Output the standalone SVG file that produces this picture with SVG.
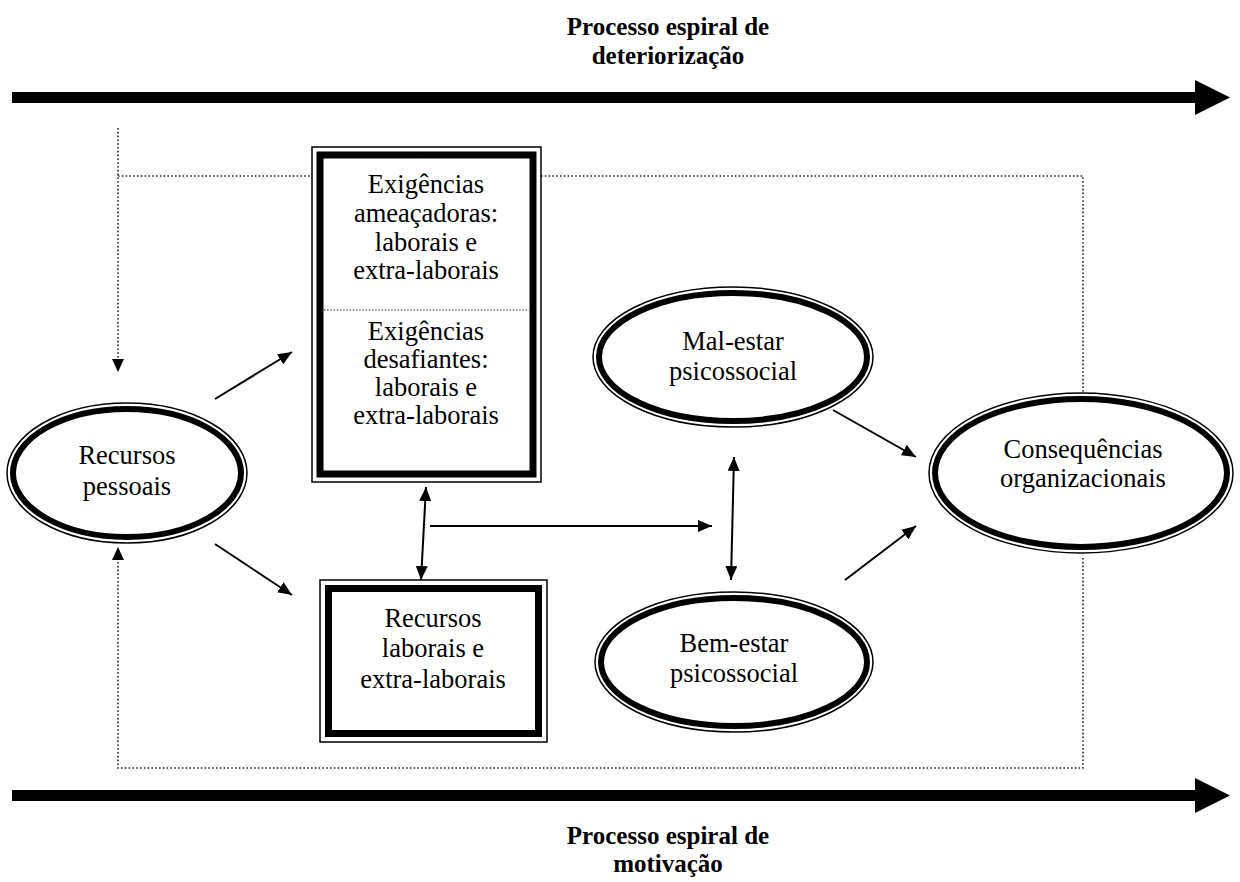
<svg xmlns="http://www.w3.org/2000/svg" width="1240" height="882" viewBox="0 0 1240 882">
  <style>
    text { font-family: "Liberation Serif", "Times New Roman", serif; fill: #000; text-anchor: middle; }
    .lbl { font-size: 26.5px; }
    .ttl { font-size: 25px; font-weight: bold; }
    .thin { fill: none; stroke: #000; stroke-width: 1.5; }
    .thick { fill: none; stroke: #000; stroke-width: 7; }
    .link { fill: none; stroke: #000; stroke-width: 2; }
    .dot { fill: none; stroke: #222; stroke-width: 1.6; stroke-dasharray: 1.6 2.2; }
    .divider { fill: none; stroke: #222; stroke-width: 1.2; stroke-dasharray: 1.4 1.8; }
  </style>
  <defs>
    <marker id="tri" viewBox="0 0 14 12" refX="14" refY="6" markerWidth="14" markerHeight="12" markerUnits="userSpaceOnUse" orient="auto-start-reverse">
      <path d="M0,0 L14,6 L0,12 Z" fill="#000"/>
    </marker>
  </defs>
  <rect width="1240" height="882" fill="#fff"/>

  <!-- spiral process banners -->
  <g id="spiral-top">
    <text class="ttl" x="668" y="35">Processo espiral de</text>
    <text class="ttl" x="668" y="64">deteriorização</text>
    <path d="M12,92 H1195 V80 L1230,97.5 L1195,115 V103 H12 Z" fill="#000"/>
  </g>
  <g id="spiral-bottom">
    <path d="M12,790 H1195 V778 L1230,795.5 L1195,813 V801 H12 Z" fill="#000"/>
    <text class="ttl" x="668" y="844">Processo espiral de</text>
    <text class="ttl" x="668" y="872">motivação</text>
  </g>

  <!-- connectors -->
  <g id="connectors">
    <!-- dotted feedback loop -->
    <path class="dot" d="M118,128 V360"/>
    <path class="dot" d="M118,176 H312"/>
    <path class="dot" d="M541,176 H1083 V392"/>
    <path class="dot" d="M1083,558 V768 H118 V560"/>
    <path d="M112,359 L118,372 L124,359 Z" fill="#000"/>
    <path d="M112,560 L118,547 L124,560 Z" fill="#000"/>
    <!-- solid arrows -->
    <line class="link" x1="215" y1="399" x2="292" y2="352" marker-end="url(#tri)"/>
    <line class="link" x1="215" y1="544" x2="292" y2="595" marker-end="url(#tri)"/>
    <line class="link" x1="426" y1="487" x2="421" y2="580" marker-start="url(#tri)" marker-end="url(#tri)"/>
    <line class="link" x1="430" y1="526" x2="712" y2="526" marker-end="url(#tri)"/>
    <line class="link" x1="734" y1="457" x2="731" y2="580" marker-start="url(#tri)" marker-end="url(#tri)"/>
    <line class="link" x1="833" y1="410" x2="916" y2="457" marker-end="url(#tri)"/>
    <line class="link" x1="845" y1="580" x2="916" y2="526" marker-end="url(#tri)"/>
  </g>

  <!-- nodes -->
  <g id="recursos-pessoais">
    <ellipse class="thin" cx="127" cy="473" rx="120" ry="70"/>
    <ellipse class="thick" cx="127" cy="473" rx="114" ry="64" style="stroke-width:6"/>
    <text class="lbl" x="127" y="464">Recursos</text>
    <text class="lbl" x="127" y="495">pessoais</text>
  </g>

  <g id="exigencias">
    <rect class="thin" x="312" y="147" width="229" height="335"/>
    <rect class="thick" x="320" y="155" width="213" height="319"/>
    <line class="divider" x1="324" y1="310" x2="529" y2="310"/>
    <text class="lbl" x="426" y="193">Exigências</text>
    <text class="lbl" x="426" y="222">ameaçadoras:</text>
    <text class="lbl" x="426" y="251">laborais e</text>
    <text class="lbl" x="426" y="279">extra-laborais</text>
    <text class="lbl" x="426" y="340">Exigências</text>
    <text class="lbl" x="426" y="368">desafiantes:</text>
    <text class="lbl" x="426" y="396">laborais e</text>
    <text class="lbl" x="426" y="424">extra-laborais</text>
  </g>

  <g id="recursos-laborais">
    <rect class="thin" x="320" y="580" width="227" height="162"/>
    <rect class="thick" x="328.5" y="588.5" width="210" height="145"/>
    <text class="lbl" x="433" y="627">Recursos</text>
    <text class="lbl" x="433" y="657">laborais e</text>
    <text class="lbl" x="433" y="688">extra-laborais</text>
  </g>

  <g id="mal-estar">
    <ellipse class="thin" cx="733" cy="357" rx="140" ry="70"/>
    <ellipse class="thick" cx="733" cy="357" rx="134" ry="64" style="stroke-width:6"/>
    <text class="lbl" x="733" y="350">Mal-estar</text>
    <text class="lbl" x="733" y="380">psicossocial</text>
  </g>

  <g id="bem-estar">
    <ellipse class="thin" cx="734" cy="662" rx="139" ry="70"/>
    <ellipse class="thick" cx="734" cy="662" rx="133" ry="64" style="stroke-width:6"/>
    <text class="lbl" x="734" y="652">Bem-estar</text>
    <text class="lbl" x="734" y="682">psicossocial</text>
  </g>

  <g id="consequencias">
    <ellipse class="thin" cx="1081" cy="473" rx="152" ry="80"/>
    <ellipse class="thick" cx="1081" cy="473" rx="146" ry="74" style="stroke-width:6"/>
    <text class="lbl" x="1083" y="458">Consequências</text>
    <text class="lbl" x="1083" y="487">organizacionais</text>
  </g>
</svg>
